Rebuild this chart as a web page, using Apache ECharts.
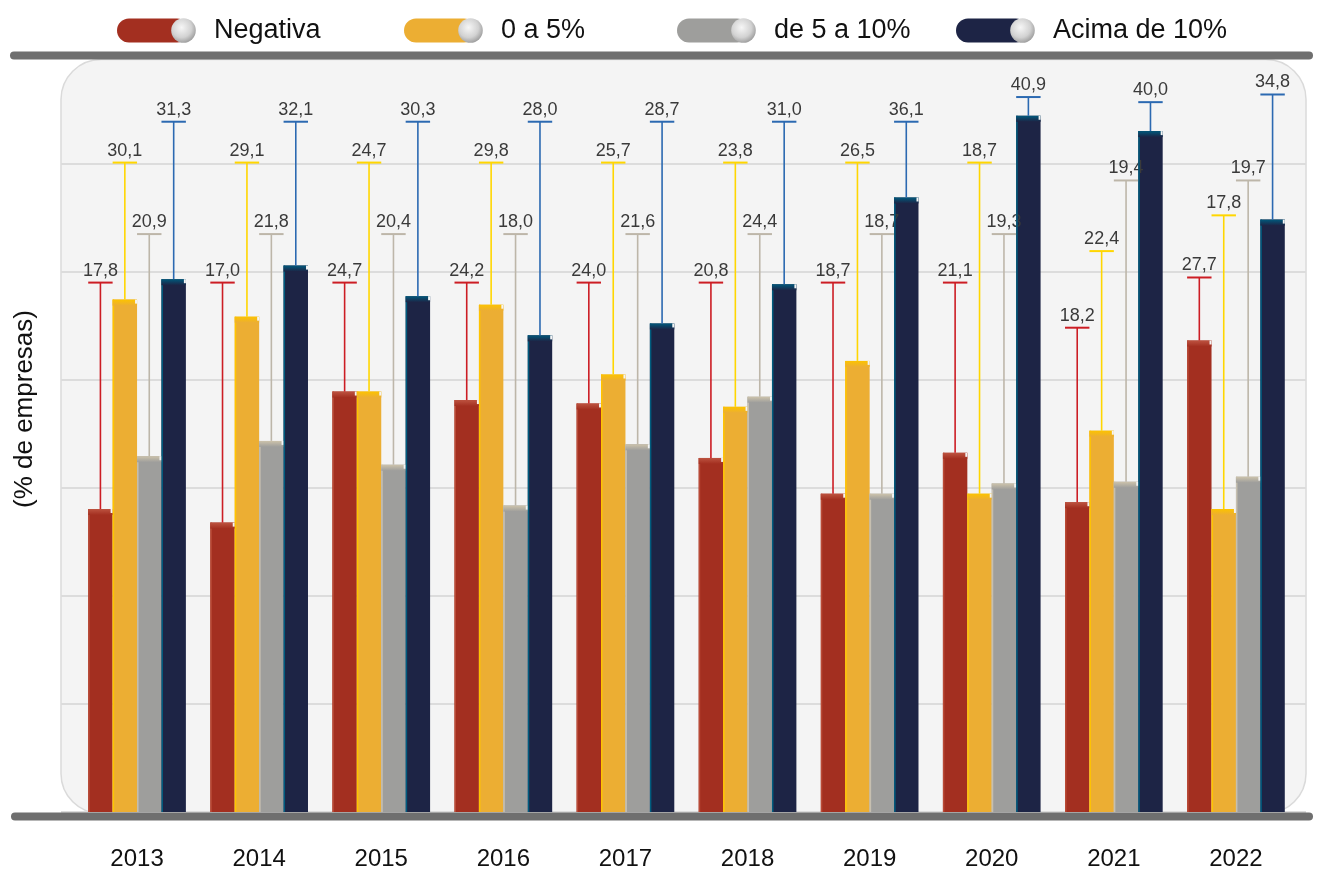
<!DOCTYPE html>
<html>
<head>
<meta charset="utf-8">
<title>Empresas por faixa</title>
<script src="https://cdn.jsdelivr.net/npm/echarts@6/dist/echarts.min.js"></script>
<style>
  html, body { margin: 0; padding: 0; background: #ffffff; }
  #chart { width: 1317px; height: 873px; }
</style>
</head>
<body>
<div id="chart"></div>
<script>
// dados
var years = ['2013', '2014', '2015', '2016', '2017', '2018', '2019', '2020', '2021', '2022'];
var negativa = [17.8, 17.0, 24.7, 24.2, 24.0, 20.8, 18.7, 21.1, 18.2, 27.7];
var ate5 = [30.1, 29.1, 24.7, 29.8, 25.7, 23.8, 26.5, 18.7, 22.4, 17.8];
var de5a10 = [20.9, 21.8, 20.4, 18.0, 21.6, 24.4, 18.7, 19.3, 19.4, 19.7];
var acima10 = [31.3, 32.1, 30.3, 28.0, 28.7, 31.0, 36.1, 40.9, 40.0, 34.8];
var seriesNames = ['Negativa', '0 a 5%', 'de 5 a 10%', 'Acima de 10%'];

// altura (em unidades do eixo) onde fica cada rótulo
var calloutLevels = [
  [31.1, 31.1, 31.1, 31.1, 31.1, 31.1, 31.1, 31.1, 28.45, 31.4],
  [38.15, 38.15, 38.15, 38.15, 38.15, 38.15, 38.15, 38.15, 32.95, 35.05],
  [33.95, 33.95, 33.95, 33.95, 33.95, 33.95, 33.95, 33.95, 37.1, 37.1],
  [40.55, 40.55, 40.55, 40.55, 40.55, 40.55, 40.55, 42.0, 41.7, 42.15]
];

var allValues = [negativa, ate5, de5a10, acima10];
var bodyColors = ['#a32f20', '#ecae33', '#9e9e9c', '#1d2445'];
var capColors = ['#bd5340', '#fcc300', '#cdc3ab', '#00597c'];
var edgeColors = ['#b94a36', '#ffc400', '#c6bfb0', '#005c7e'];
var lineColors = ['#cc1d24', '#ffd600', '#bdb6a9', '#2b69b1'];
var legendLeft = [112, 399, 672, 951];
var txtFont = "'Liberation Sans', Arial, sans-serif";

function pillIcon(color) {
  var svg = '<svg xmlns="http://www.w3.org/2000/svg" width="79" height="25" viewBox="0 0 79 25">' +
    '<defs><radialGradient id="k" cx="42%" cy="38%" r="62%">' +
    '<stop offset="0" stop-color="#f6f6f6"/><stop offset="0.65" stop-color="#d2d2d2"/><stop offset="1" stop-color="#a2a2a2"/>' +
    '</radialGradient></defs>' +
    '<rect x="0" y="0.5" width="72" height="24" rx="12" fill="' + color + '"/>' +
    '<circle cx="66.5" cy="12.5" r="12.3" fill="url(#k)"/></svg>';
  return 'image://data:image/svg+xml;charset=utf-8,' + encodeURIComponent(svg);
}

function fmt(v) {
  return v.toFixed(1).replace('.', ',');
}

// linha guia + rótulo + topo do "3D" de cada barra
function makeRender(s) {
  return function (params, api) {
    var i = api.value(0);
    var v = api.value(1);
    var lvl = api.value(2);
    var base = api.coord([i, 0]);
    var top = api.coord([i, v]);
    var lab = api.coord([i, lvl]);
    var band = api.size([1, 0])[0];
    var w = band * 0.8 / 4;
    var x0 = base[0] - band * 0.4 + w * s;
    var cx = x0 + w / 2;
    var lc = lineColors[s];
    return {
      type: 'group',
      children: [
        {
          type: 'line',
          shape: { x1: x0 + 0.75, y1: top[1], x2: x0 + 0.75, y2: base[1] },
          style: { stroke: edgeColors[s], lineWidth: 1.5 }
        },
        {
          type: 'rect',
          shape: { x: x0, y: top[1], width: w, height: 6 },
          style: {
            fill: new echarts.graphic.LinearGradient(0, 0, 0, 1, [
              { offset: 0, color: capColors[s] },
              { offset: 1, color: bodyColors[s] }
            ])
          }
        },
        {
          type: 'rect',
          shape: { x: x0 + w - 2, y: top[1], width: 2, height: 4 },
          style: { fill: '#f4f4f4' }
        },
        {
          type: 'line',
          shape: { x1: cx, y1: lab[1], x2: cx, y2: top[1] },
          style: { stroke: lc, lineWidth: 1.6 }
        },
        {
          type: 'line',
          shape: { x1: x0, y1: lab[1], x2: x0 + w, y2: lab[1] },
          style: { stroke: lc, lineWidth: 2 }
        },
        {
          type: 'text',
          style: {
            text: fmt(v),
            x: cx,
            y: lab[1] - 3,
            align: 'center',
            verticalAlign: 'bottom',
            fill: '#3a3a3a',
            fontSize: 18,
            fontFamily: txtFont
          }
        }
      ]
    };
  };
}

var chart = echarts.init(document.getElementById('chart'));

var series = [];
allValues.forEach(function (vals, s) {
  series.push({
    name: seriesNames[s],
    type: 'bar',
    xAxisIndex: 0,
    yAxisIndex: 0,
    data: vals,
    barGap: '0%',
    barCategoryGap: '20%',
    itemStyle: { color: bodyColors[s] },
    emphasis: { disabled: true },
    z: 2
  });
});
allValues.forEach(function (vals, s) {
  series.push({
    name: seriesNames[s],
    type: 'custom',
    xAxisIndex: 0,
    yAxisIndex: 0,
    clip: false,
    z: 5,
    renderItem: makeRender(s),
    encode: { x: 0, y: 1 },
    data: vals.map(function (v, i) { return [i, v, calloutLevels[s][i]]; })
  });
});

var legends = seriesNames.map(function (n, s) {
  return {
    left: legendLeft[s],
    top: 12,
    itemWidth: 79,
    itemHeight: 25,
    selectedMode: false,
    data: [{ name: n, icon: pillIcon(bodyColors[s]) }],
    textStyle: {
      color: '#111111',
      fontSize: 27,
      fontFamily: txtFont,
      padding: [0, 0, 0, 13]
    }
  };
});

chart.setOption({
  animation: false,
  backgroundColor: '#ffffff',
  legend: legends,
  grid: [
    { left: 76, right: 20, top: 63, bottom: 61, outerBoundsMode: 'none' },
    { left: 61, right: 11, top: 163.5, bottom: 61, outerBoundsMode: 'none' }
  ],
  xAxis: [
    {
      type: 'category',
      gridIndex: 0,
      data: years,
      axisLine: { show: false },
      axisTick: { show: false },
      axisLabel: { color: '#111111', fontSize: 24, fontFamily: txtFont, margin: 35 },
      splitLine: { show: false }
    },
    { type: 'value', gridIndex: 1, show: false, min: 0, max: 1 }
  ],
  yAxis: [
    {
      type: 'value',
      gridIndex: 0,
      min: 0,
      max: 44,
      show: false,
      splitLine: { show: false }
    },
    {
      type: 'value',
      gridIndex: 1,
      min: 0,
      max: 6,
      interval: 1,
      axisLine: { show: false },
      axisTick: { show: false },
      axisLabel: { show: false },
      splitLine: { show: true, lineStyle: { color: '#dcdcdc', width: 2 } }
    }
  ],
  graphic: [
    {
      type: 'rect',
      z: -10,
      shape: { x: 61, y: 59.5, width: 1245, height: 754, r: 40 },
      style: { fill: '#f4f4f4', stroke: '#dadada', lineWidth: 1.5 }
    },
    {
      type: 'line',
      z: 100,
      shape: { x1: 14, y1: 55.5, x2: 1309, y2: 55.5 },
      style: { stroke: '#6f6f6f', lineWidth: 8, lineCap: 'round' }
    },
    {
      type: 'line',
      z: 100,
      shape: { x1: 15, y1: 816.5, x2: 1309, y2: 816.5 },
      style: { stroke: '#6f6f6f', lineWidth: 8, lineCap: 'round' }
    },
    {
      type: 'text',
      z: 100,
      x: 25,
      y: 409,
      rotation: Math.PI / 2,
      style: {
        text: '(% de empresas)',
        align: 'center',
        verticalAlign: 'middle',
        fill: '#111111',
        fontSize: 26,
        fontFamily: txtFont
      }
    }
  ],
  series: series
});
</script>
</body>
</html>
